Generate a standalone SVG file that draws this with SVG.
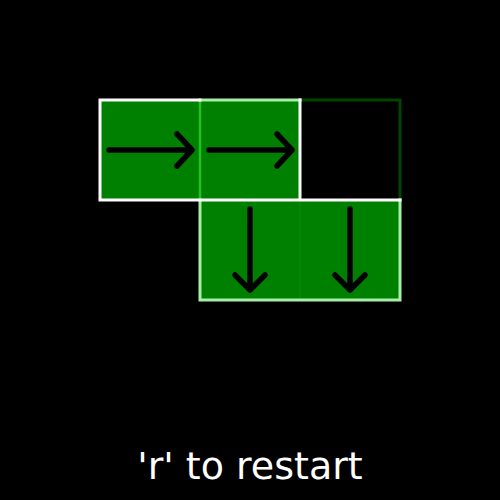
<svg xmlns="http://www.w3.org/2000/svg" width="500" height="500" viewBox="0 0 500 500">
<defs>
<style>
.cell{fill:#008000}
.arrow{fill:none;stroke:#000;stroke-width:5.5;stroke-linecap:round;stroke-linejoin:round}
.edge{fill:none;stroke-width:3;stroke-linecap:square}
.white{stroke:#ffffff}
.light{stroke:#a6f0a6}
.dark{stroke:#004400}
</style>
</defs>
<rect width="500" height="500" fill="#000"/>
<g id="cell-1-1"><rect class="cell" x="100" y="100" width="100" height="100"/>
<path class="arrow" d="M109,150 H192 M177,134 L192,150 L177,166"/></g>
<g id="cell-2-1"><rect class="cell" x="200" y="100" width="100" height="100"/>
<path class="arrow" d="M209,150 H292 M277,134 L292,150 L277,166"/></g>
<g id="cell-3-1"><rect x="300" y="100" width="100" height="100" fill="none"/></g>
<g id="cell-2-2"><rect class="cell" x="200" y="200" width="100" height="100"/>
<path class="arrow" d="M250,209 V290 M235,275 L250,290 L265,275"/></g>
<g id="cell-3-2"><rect class="cell" x="300" y="200" width="100" height="100"/>
<path class="arrow" d="M350,209 V290 M335,275 L350,290 L365,275"/></g>
<g id="connectors">
<line x1="300" y1="200" x2="300" y2="300" stroke="#0d8d0d" stroke-width="1"/>
<line x1="200" y1="100" x2="200" y2="200" stroke="#22c022" stroke-width="2.5"/>
<path class="edge dark" d="M300,100 H400 V200"/>
<path class="edge light" d="M200,100 H300"/>
<path class="edge light" d="M200,200 V300 H400 V200"/>
<path class="edge white" d="M200,100 H100 V200 H400 M300,100 V200"/>
</g>
<text x="250" y="479" text-anchor="middle" font-family="DejaVu Sans, sans-serif" font-size="38" fill="#fff">'r' to restart</text>
</svg>
